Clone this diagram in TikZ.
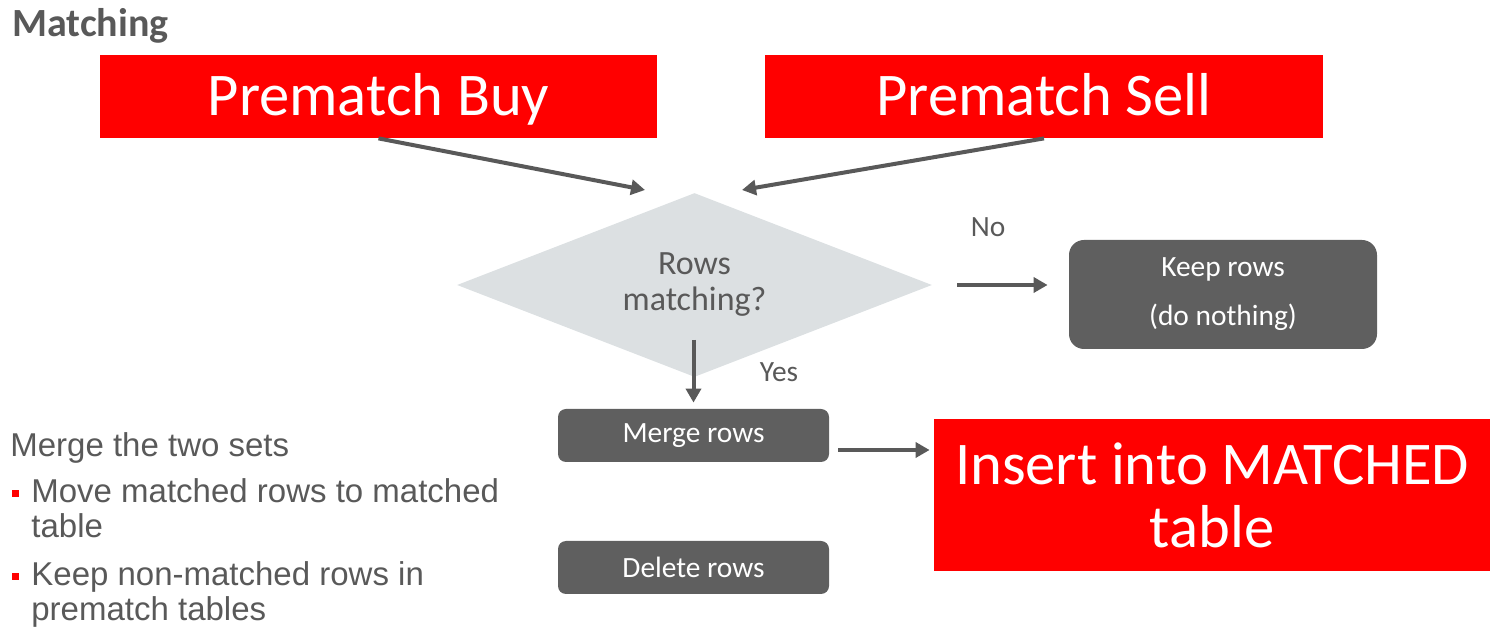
\documentclass[tikz,border=0pt]{standalone}
\usepackage{fontspec}
\setmainfont{Carlito}
\newfontfamily\arialfont{Liberation Sans}
\usetikzlibrary{shapes.geometric,arrows.meta}
\definecolor{slidered}{HTML}{FF0000}
\definecolor{boxgrey}{HTML}{5F5F5F}
\definecolor{txtgrey}{HTML}{595959}
\definecolor{diagrey}{HTML}{DCE0E2}
\begin{document}
\begin{tikzpicture}[x=0.5pt,y=-0.5pt,line join=round,
    >={Triangle[length=7pt,width=7.5pt]},
    redbox/.style={fill=slidered,text=white,inner sep=0pt,align=center,
        font=\fontsize{30.3}{31.5}\selectfont},
    greybox/.style={fill=boxgrey,text=white,inner sep=0pt,align=center,
        font=\fontsize{14.7}{24.5}\selectfont},
    arr/.style={->,color=txtgrey,line width=2pt},
    lbl/.style={text=txtgrey,inner sep=0pt,font=\fontsize{14.7}{17}\selectfont},
    bullettxt/.style={anchor=base west,align=left,text=txtgrey,inner sep=0pt,
        font=\arialfont\fontsize{16.5}{17.5}\selectfont},
    bulletsq/.style={fill=slidered,minimum size=3.5pt,inner sep=0pt}]
    \useasboundingbox (0,0) rectangle (1496,630);
    % Titel
    \node[anchor=base west,inner sep=0pt,text=txtgrey,font=\bfseries\fontsize{20}{22}\selectfont] (title) at (12,37) {Matching};
    % Prematch-Tabellen
    \node[redbox,text height=22.7pt,text depth=3.2pt,minimum width=278.5pt,minimum height=41.5pt] (buy) at (378.5,96.5) {Prematch Buy};
    \node[redbox,text height=22.7pt,text depth=3.2pt,minimum width=279pt,minimum height=41.5pt] (sell) at (1044,96.5) {Prematch Sell};
    % Entscheidung
    \node[diamond,fill=diagrey,inner sep=0pt,aspect=2.58,minimum width=237.5pt,minimum height=92pt,
        align=center,text=txtgrey,font=\fontsize{17}{18}\selectfont] (dec) at (694.5,285) {Rows\\matching?};
    \coordinate (buyin) at (645,190);
    \coordinate (sellin) at (742,190);
    \draw[arr] (buy.south) -- (buyin);
    \draw[arr] (sell.south) -- (sellin);
    % Nein-Zweig
    \node[greybox,rounded corners=7.5pt,minimum width=154pt,minimum height=54.5pt] (keep) at (1223,294.5) {Keep rows\\(do nothing)};
    \draw[arr,shorten <=12.5pt,shorten >=10.5pt] (dec.east) -- (dec.east -| keep.west);
    \node[lbl] (no) at (988,227) {No};
    % Ja-Zweig
    \node[greybox,rounded corners=4pt,minimum width=135.5pt,minimum height=26.5pt] (merge) at (693.5,435.5) {Merge rows};
    \node[greybox,rounded corners=4pt,minimum width=135.5pt,minimum height=26.5pt] (delete) at (693.5,567.5) {Delete rows};
    \coordinate (yestop) at (693.5,340);
    \draw[arr,shorten >=3pt] (yestop) -- (merge.north);
    \node[lbl] (yes) at (779,372) {Yes};
    \node[redbox,minimum width=278pt,minimum height=76pt] (insert) at (1212,495) {Insert into MATCHED\\table};
    \draw[arr,shorten <=4.5pt,shorten >=2pt] ([yshift=-7.25pt]merge.east) -- ([yshift=-7.25pt]merge.east -| insert.west);
    % Aufzaehlung links
    \node[bullettxt] (sets) at (10,457) {Merge the two sets};
    \node[bulletsq] (b1) at (15.5,493.5) {};
    \node[bullettxt] (item1) at (31,538) {Move matched rows to matched\\table};
    \node[bulletsq] (b2) at (15.5,576.5) {};
    \node[bullettxt] (item2) at (31,621) {Keep non-matched rows in\\prematch tables};
\end{tikzpicture}
\end{document}
